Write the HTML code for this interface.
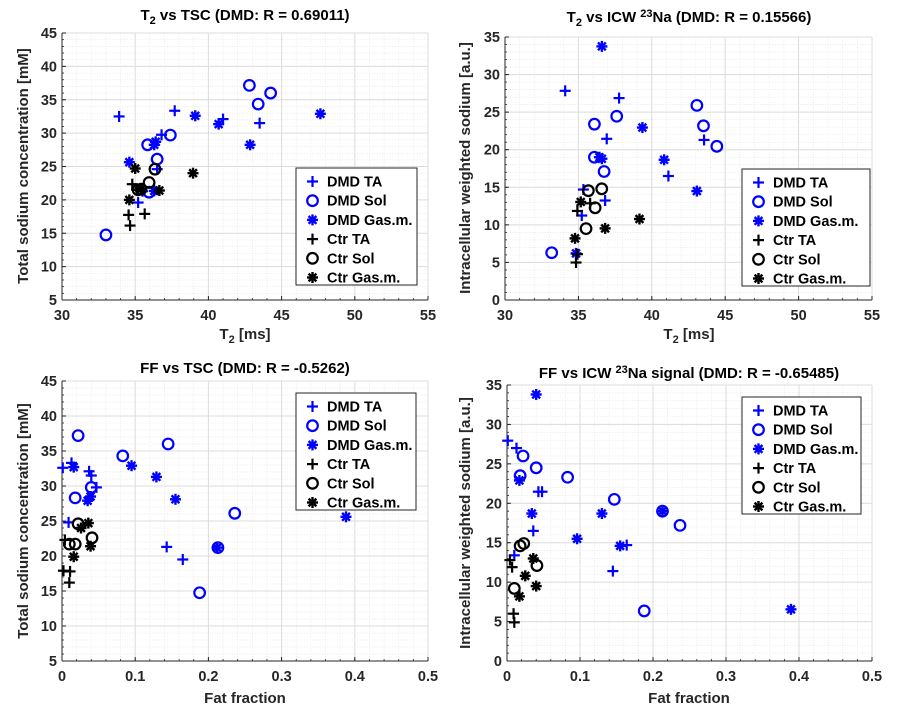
<!DOCTYPE html>
<html><head><meta charset="utf-8">
<style>
html,body{margin:0;padding:0;background:#fff;}
svg{display:block;font-family:"Liberation Sans",Arial,sans-serif;}
.tick{font-size:14.5px;font-weight:bold;fill:#262626;}
.ttl{font-size:15px;font-weight:bold;fill:#000;}
.lab{font-size:15px;font-weight:bold;fill:#262626;}
.leg{font-size:14.5px;font-weight:bold;fill:#000;}
</style></head>
<body>
<svg id="fig" width="917" height="709" viewBox="0 0 917 709" xmlns="http://www.w3.org/2000/svg"></svg>
<script>
// ---- data ----
const p1_dmdTA_x=[33.9,37.7,41.0,43.5,36.8,36.5,35.5,35.2];
const p1_dmdTA_y=[32.5,33.35,32.1,31.5,29.75,24.6,21.3,19.6];
const p1_dmdSol_x=[33.0,42.8,44.25,43.4,37.4,35.85,36.5,35.95];
const p1_dmdSol_y=[14.75,37.15,36.0,34.35,29.7,28.25,26.1,21.15];
const p1_dmdGas_x=[39.1,40.7,47.65,42.85,36.3,36.4,34.6,36.3];
const p1_dmdGas_y=[32.6,31.35,32.9,28.25,28.25,28.7,25.65,21.35];
const p1_ctrTA_x=[34.8,35.1,34.55,35.65,34.65];
const p1_ctrTA_y=[22.35,21.5,17.75,17.9,16.15];
const p1_ctrSol_x=[36.35,35.95,35.4,35.2];
const p1_ctrSol_y=[24.6,22.6,21.6,21.5];
const p1_ctrGas_x=[35.0,38.95,36.65,34.6,35.4];
const p1_ctrGas_y=[24.7,24.0,21.4,20.0,21.6];

const p2_dmdTA_x=[34.1,37.77,36.93,43.56,41.13,35.34,36.82,35.23];
const p2_dmdTA_y=[27.84,26.87,21.45,21.3,16.5,14.7,13.24,11.24];
const p2_dmdSol_x=[43.07,37.61,43.52,36.09,44.43,36.09,36.75,33.18];
const p2_dmdSol_y=[25.9,24.45,23.18,23.4,20.45,19.0,17.1,6.29];
const p2_dmdGas_x=[36.6,39.36,40.84,36.43,36.6,43.07,34.84];
const p2_dmdGas_y=[33.75,22.95,18.66,19.0,18.8,14.5,6.2];
const p2_ctrTA_x=[34.84,34.93,34.93,35.8];
const p2_ctrTA_y=[4.99,6.1,11.85,12.87];
const p2_ctrSol_x=[35.68,36.59,36.14,35.52];
const p2_ctrSol_y=[14.55,14.8,12.27,9.5];
const p2_ctrGas_x=[35.16,39.16,36.82,34.77];
const p2_ctrGas_y=[13.05,10.78,9.53,8.2];

const p3_dmdTA_x=[0.001,0.013,0.037,0.040,0.047,0.009,0.143,0.165];
const p3_dmdTA_y=[32.6,33.3,32.1,31.5,29.8,24.8,21.3,19.5];
const p3_dmdSol_x=[0.022,0.145,0.083,0.040,0.018,0.236,0.213,0.188];
const p3_dmdSol_y=[37.2,36.0,34.3,29.8,28.3,26.1,21.2,14.75];
const p3_dmdGas_x=[0.016,0.095,0.129,0.155,0.035,0.039,0.212,0.388];
const p3_dmdGas_y=[32.7,32.9,31.3,28.1,27.9,28.5,21.2,25.6];
const p3_ctrTA_x=[0.004,0.002,0.011,0.010];
const p3_ctrTA_y=[22.3,17.9,17.8,16.2];
const p3_ctrSol_x=[0.022,0.041,0.010,0.018];
const p3_ctrSol_y=[24.6,22.6,21.7,21.7];
const p3_ctrGas_x=[0.036,0.026,0.039,0.016];
const p3_ctrGas_y=[24.7,24.0,21.4,19.9];

const p4_dmdTA_x=[0.001,0.013,0.043,0.048,0.036,0.164,0.010,0.145];
const p4_dmdTA_y=[27.94,27.0,21.47,21.47,16.5,14.7,13.4,11.4];
const p4_dmdSol_x=[0.022,0.040,0.018,0.083,0.147,0.213,0.237,0.188];
const p4_dmdSol_y=[26.0,24.5,23.5,23.3,20.5,19.0,17.2,6.35];
const p4_dmdGas_x=[0.040,0.017,0.034,0.130,0.096,0.155,0.213,0.389];
const p4_dmdGas_y=[33.8,22.9,18.7,18.7,15.5,14.6,19.0,6.55];
const p4_ctrTA_x=[0.004,0.007,0.009,0.010];
const p4_ctrTA_y=[12.8,11.9,6.0,4.9];
const p4_ctrSol_x=[0.018,0.023,0.041,0.010];
const p4_ctrSol_y=[14.6,14.9,12.1,9.2];
const p4_ctrGas_x=[0.036,0.025,0.040,0.017];
const p4_ctrGas_y=[13.0,10.8,9.5,8.2];

const ticksT2=[30,35,40,45,50,55];
const ticksFF=[0,0.1,0.2,0.3,0.4,0.5];
const ticksTSC=[5,10,15,20,25,30,35,40,45];
const ticksICW=[0,5,10,15,20,25,30,35];
const legendLabels=["DMD TA","DMD Sol","DMD Gas.m.","Ctr TA","Ctr Sol","Ctr Gas.m."];

const NS="http://www.w3.org/2000/svg";
const svg=document.getElementById('fig');
function mk(tag,attrs,parent){const e=document.createElementNS(NS,tag);for(const k in attrs)e.setAttribute(k,attrs[k]);(parent||svg).appendChild(e);return e;}

function marker(g,type,cx,cy,color){
  const m=mk('g',{},g);
  if(type==='plus'){
    mk('line',{x1:cx-5.5,y1:cy,x2:cx+5.5,y2:cy,stroke:color,'stroke-width':2.2},m);
    mk('line',{x1:cx,y1:cy-5.5,x2:cx,y2:cy+5.5,stroke:color,'stroke-width':2.2},m);
  }else if(type==='circle'){
    mk('circle',{cx:cx,cy:cy,r:5.3,fill:'none',stroke:color,'stroke-width':2.2},m);
  }else{
    const r=5.5,d=3.9;
    mk('line',{x1:cx-r,y1:cy,x2:cx+r,y2:cy,stroke:color,'stroke-width':2.4},m);
    mk('line',{x1:cx,y1:cy-r,x2:cx,y2:cy+r,stroke:color,'stroke-width':2.4},m);
    mk('line',{x1:cx-d,y1:cy-d,x2:cx+d,y2:cy+d,stroke:color,'stroke-width':2.4},m);
    mk('line',{x1:cx-d,y1:cy+d,x2:cx+d,y2:cy-d,stroke:color,'stroke-width':2.4},m);
  }
  return m;
}

function panel(cfg){
  const {L,R,T,B,xmin,xmax,ymin,ymax,xticks,yticks,xminor,yminor,series,name}=cfg;
  const sx=v=>L+(v-xmin)/(xmax-xmin)*(R-L);
  const sy=v=>B-(v-ymin)/(ymax-ymin)*(B-T);
  const g=mk('g',{});
  
  
  mk('rect',{x:L,y:T,width:R-L,height:B-T,fill:'#fff'},g);
  const grid=mk('g',{},g);
  
  
  for(let v=xmin;v<=xmax+1e-9;v+=xminor){const x=sx(v);mk('line',{x1:x,y1:T,x2:x,y2:B,stroke:'#e6e6e6','stroke-width':0.7,'stroke-dasharray':'1,1.5'},grid);}
  for(let v=ymin;v<=ymax+1e-9;v+=yminor){const y=sy(v);mk('line',{x1:L,y1:y,x2:R,y2:y,stroke:'#e6e6e6','stroke-width':0.7,'stroke-dasharray':'1,1.5'},grid);}
  xticks.forEach(v=>{const x=sx(v);mk('line',{x1:x,y1:T,x2:x,y2:B,stroke:'#dcdcdc','stroke-width':1},grid);});
  yticks.forEach(v=>{const y=sy(v);mk('line',{x1:L,y1:y,x2:R,y2:y,stroke:'#dcdcdc','stroke-width':1},grid);});
  mk('line',{x1:L,y1:B,x2:R,y2:B,stroke:'#262626','stroke-width':1},g);
  mk('line',{x1:L,y1:T,x2:L,y2:B,stroke:'#262626','stroke-width':1},g);
  for(let v=xmin;v<=xmax+1e-9;v+=xminor){const x=sx(v);mk('line',{x1:x,y1:B,x2:x,y2:B-2,stroke:'#262626','stroke-width':0.8},g);}
  for(let v=ymin;v<=ymax+1e-9;v+=yminor){const y=sy(v);mk('line',{x1:L,y1:y,x2:L+2,y2:y,stroke:'#262626','stroke-width':0.8},g);}
  xticks.forEach(v=>{const x=sx(v);mk('line',{x1:x,y1:B,x2:x,y2:B-4,stroke:'#262626'},g);
    const t=mk('text',{x:x,y:B+20,'text-anchor':'middle',class:'tick'},g);t.textContent=String(v);
    
    });
  yticks.forEach(v=>{const y=sy(v);mk('line',{x1:L,y1:y,x2:L+4,y2:y,stroke:'#262626'},g);
    const t=mk('text',{x:L-5,y:y+5,'text-anchor':'end',class:'tick'},g);t.textContent=String(v);
    
    });
  series.forEach(s=>{
    const sg=mk('g',{},g);
    
    
    s.x.forEach((xv,i)=>{const m=marker(sg,s.type,sx(xv),sy(s.y[i]),s.color);
      
      });
  });
  const lg=mk('g',{},g);
  
  
  const lx=cfg.legX,ly=cfg.legY,lw=cfg.legW,lh=117;
  mk('rect',{x:lx,y:ly,width:lw,height:lh,fill:'#fff',stroke:'#262626','stroke-width':1},lg);
  series.forEach((s,i)=>{
    const cy=ly+13.5+i*19.2;
    const e=mk('g',{},lg);
    
    
    marker(e,s.type,lx+16.5,cy,s.color);
    const t=mk('text',{x:lx+31,y:cy+5,class:'leg'},e);t.textContent=legendLabels[i];
  });
}

function mkSeries(p){
  return [
    {key:'dmd-ta',type:'plus',color:'#0000ff',x:p[0],y:p[1]},
    {key:'dmd-sol',type:'circle',color:'#0000ff',x:p[2],y:p[3]},
    {key:'dmd-gas',type:'star',color:'#0000ff',x:p[4],y:p[5]},
    {key:'ctr-ta',type:'plus',color:'#000',x:p[6],y:p[7]},
    {key:'ctr-sol',type:'circle',color:'#000',x:p[8],y:p[9]},
    {key:'ctr-gas',type:'star',color:'#000',x:p[10],y:p[11]},
  ];
}

panel({name:'t2-vs-tsc',L:62,R:428,T:33,B:300,xmin:30,xmax:55,ymin:5,ymax:45,xticks:ticksT2,yticks:ticksTSC,xminor:1,yminor:1,
  legX:296,legY:168,legW:121,
  series:mkSeries([p1_dmdTA_x,p1_dmdTA_y,p1_dmdSol_x,p1_dmdSol_y,p1_dmdGas_x,p1_dmdGas_y,p1_ctrTA_x,p1_ctrTA_y,p1_ctrSol_x,p1_ctrSol_y,p1_ctrGas_x,p1_ctrGas_y])});
panel({name:'t2-vs-icw',L:505,R:872,T:37,B:300,xmin:30,xmax:55,ymin:0,ymax:35,xticks:ticksT2,yticks:ticksICW,xminor:1,yminor:1,
  legX:742,legY:169,legW:128,
  series:mkSeries([p2_dmdTA_x,p2_dmdTA_y,p2_dmdSol_x,p2_dmdSol_y,p2_dmdGas_x,p2_dmdGas_y,p2_ctrTA_x,p2_ctrTA_y,p2_ctrSol_x,p2_ctrSol_y,p2_ctrGas_x,p2_ctrGas_y])});
panel({name:'ff-vs-tsc',L:62,R:428,T:381,B:661,xmin:0,xmax:0.5,ymin:5,ymax:45,xticks:ticksFF,yticks:ticksTSC,xminor:0.02,yminor:1,
  legX:296,legY:393,legW:120,
  series:mkSeries([p3_dmdTA_x,p3_dmdTA_y,p3_dmdSol_x,p3_dmdSol_y,p3_dmdGas_x,p3_dmdGas_y,p3_ctrTA_x,p3_ctrTA_y,p3_ctrSol_x,p3_ctrSol_y,p3_ctrGas_x,p3_ctrGas_y])});
panel({name:'ff-vs-icw',L:507,R:872,T:385,B:661,xmin:0,xmax:0.5,ymin:0,ymax:35,xticks:ticksFF,yticks:ticksICW,xminor:0.02,yminor:1,
  legX:742,legY:397,legW:119,
  series:mkSeries([p4_dmdTA_x,p4_dmdTA_y,p4_dmdSol_x,p4_dmdSol_y,p4_dmdGas_x,p4_dmdGas_y,p4_ctrTA_x,p4_ctrTA_y,p4_ctrSol_x,p4_ctrSol_y,p4_ctrGas_x,p4_ctrGas_y])});
</script>
<script>
(function(){
const NS="http://www.w3.org/2000/svg";const svg=document.getElementById('fig');
function txt(html,attrs,name){const t=document.createElementNS(NS,'text');for(const k in attrs)t.setAttribute(k,attrs[k]);t.innerHTML=html;
  
  
  svg.appendChild(t);return t;}
const sub='<tspan dy="4" font-size="11">2</tspan><tspan dy="-4">';
txt('T'+sub+' vs TSC (DMD: R = 0.69011)</tspan>',{x:245,y:20,'text-anchor':'middle',class:'ttl'},'title-t2-vs-tsc');
txt('T'+sub+' vs ICW </tspan><tspan dy="-5" font-size="11">23</tspan><tspan dy="5">Na (DMD: R = 0.15566)</tspan>',{x:689,y:22,'text-anchor':'middle',class:'ttl'},'title-t2-vs-icw');
txt('FF vs TSC (DMD: R = -0.5262)',{x:245,y:373,'text-anchor':'middle',class:'ttl'},'title-ff-vs-tsc');
txt('FF vs ICW <tspan dy="-5" font-size="11">23</tspan><tspan dy="5">Na signal (DMD: R = -0.65485)</tspan>',{x:689,y:378,'text-anchor':'middle',class:'ttl'},'title-ff-vs-icw');
txt('T'+sub+' [ms]</tspan>',{x:245,y:339,'text-anchor':'middle',class:'lab'},'x-axis-title-t2');
txt('T'+sub+' [ms]</tspan>',{x:689,y:339,'text-anchor':'middle',class:'lab'},'x-axis-title-t2-right');
txt('Fat fraction',{x:245,y:703,'text-anchor':'middle',class:'lab'},'x-axis-title-ff');
txt('Fat fraction',{x:689,y:703,'text-anchor':'middle',class:'lab'},'x-axis-title-ff-right');
txt('Total sodium concentration [mM]',{x:0,y:0,'text-anchor':'middle',class:'lab',transform:'translate(28,166) rotate(-90)'},'y-axis-title-tsc');
txt('Intracellular weighted sodium [a.u.]',{x:0,y:0,'text-anchor':'middle',class:'lab',transform:'translate(470,168) rotate(-90)'},'y-axis-title-icw');
txt('Total sodium concentration [mM]',{x:0,y:0,'text-anchor':'middle',class:'lab',transform:'translate(28,521) rotate(-90)'},'y-axis-title-tsc-bottom');
txt('Intracellular weighted sodium [a.u.]',{x:0,y:0,'text-anchor':'middle',class:'lab',transform:'translate(470,523) rotate(-90)'},'y-axis-title-icw-bottom');
})();
</script>
</body></html>
